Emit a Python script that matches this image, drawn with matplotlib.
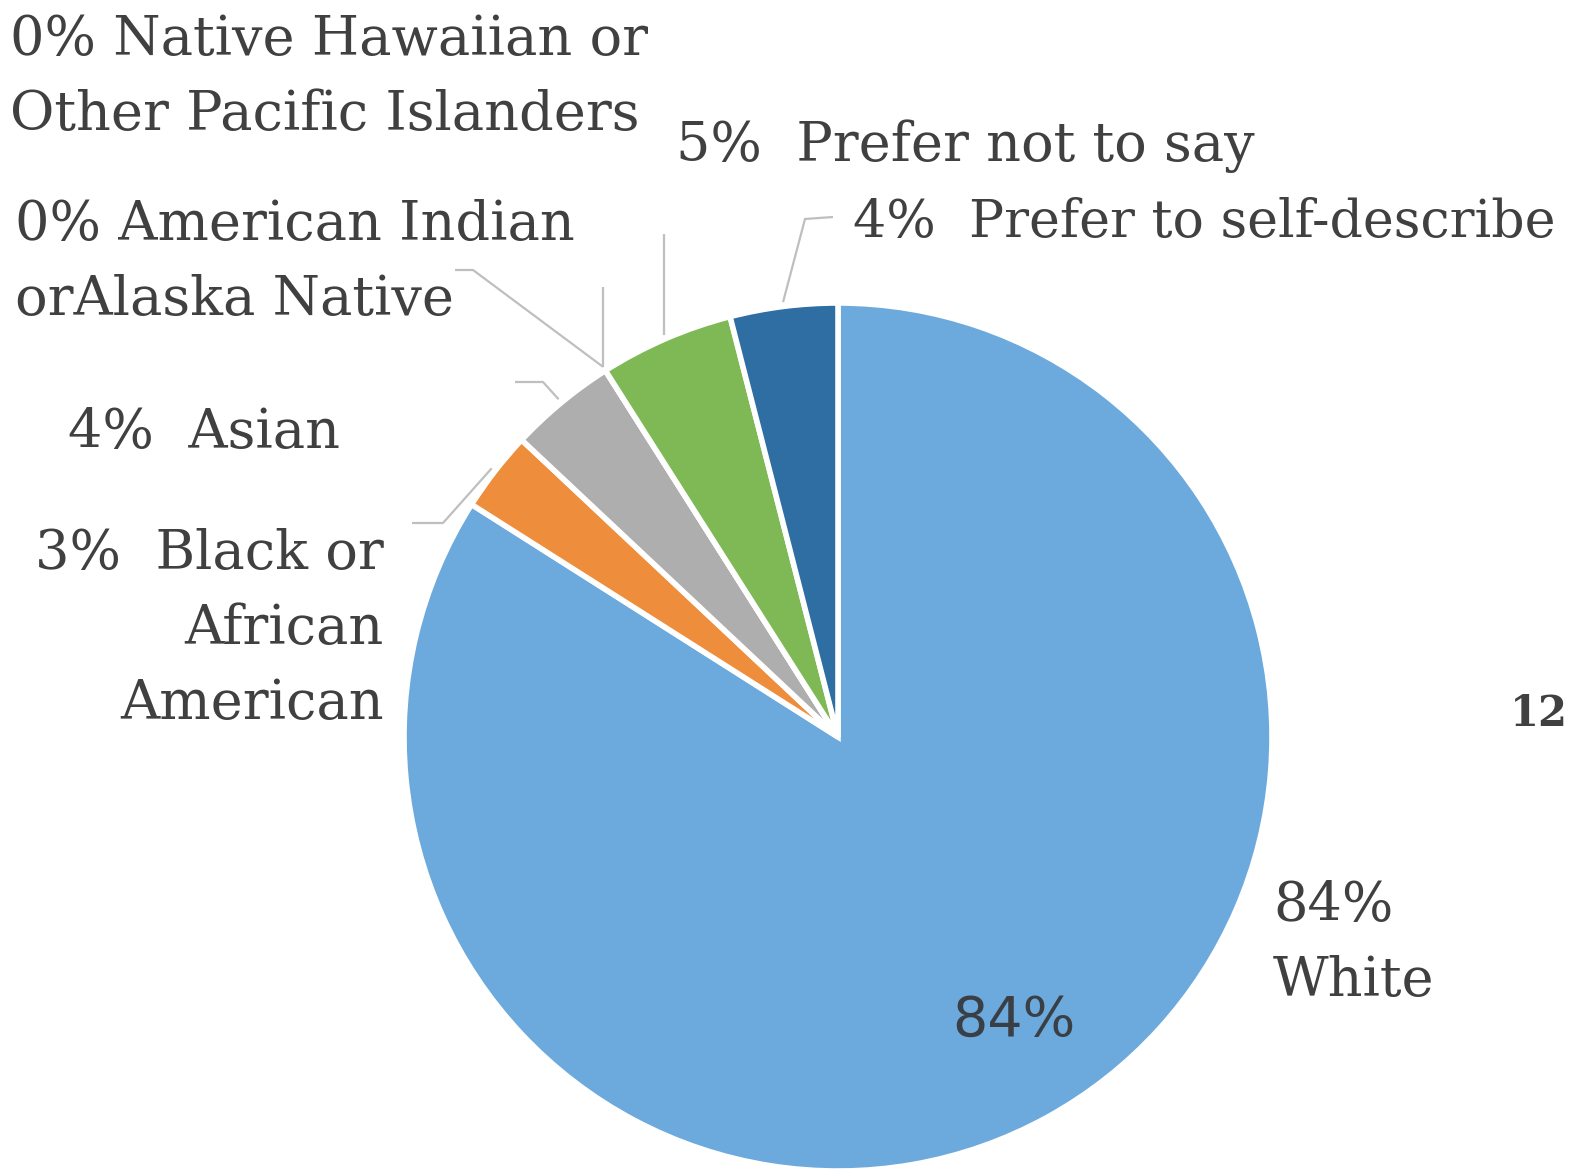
import numpy as np
import matplotlib
matplotlib.use("Agg")
from matplotlib import pyplot as plt

W, H = 1578, 1172

# survey answers, percent
categories = ["White", "Black or African American", "Asian",
              "American Indian or Alaska Native",
              "Native Hawaiian or Other Pacific Islanders",
              "Prefer not to say", "Prefer to self-describe"]
shares = [84, 3, 4, 0, 0, 5, 4]
label_lines = [
    ["{}%", "White"],
    ["{}%  Black or", "African", "American"],
    ["{}%  Asian"],
    ["{}% American Indian", "orAlaska Native"],
    ["{}% Native Hawaiian or", "Other Pacific Islanders"],
    ["{}%  Prefer not to say"],
    ["{}%  Prefer to self-describe"],
]
colors = ["#6CA9DC", "#EE8E3C", "#AEAEAE", "#A9D08E", "#4472C4", "#7EB956", "#2E6EA3"]

# where each label sits (pixels from top-left), and the bend of its leader line
layout = [
    dict(x=1273, y=921, ha="left", size=39, leader=None),
    dict(x=384, y=569, ha="right", size=39, leader=[(412, 523), (443, 523)]),
    dict(x=68, y=448, ha="left", size=39, leader=[(515, 382), (543, 382)]),
    dict(x=15, y=240, ha="left", size=39, leader=[(455, 270), (473, 270)]),
    dict(x=10, y=55, ha="left", size=39, leader=[(None, 287)]),
    dict(x=676, y=161, ha="left", size=39, leader=[(None, 234)]),
    dict(x=853, y=237, ha="left", size=37.5, leader=[(833, 217), (805, 219)]),
]

cx, cy, r = 838, 737, 434
text_col = "#404040"
line_col = "#BFBFBF"
line_gap = 75


def py(y):
    return H - y


fig = plt.figure(figsize=(W / 100, H / 100), dpi=100)
ax = fig.add_axes([0, 0, 1, 1])

wedges, _ = ax.pie(shares, colors=colors, startangle=90, counterclock=False,
                   center=(cx, py(cy)), radius=r,
                   wedgeprops=dict(edgecolor="white", linewidth=4))

for w, v, lines, lay in zip(wedges, shares, label_lines, layout):
    mid = np.deg2rad((w.theta1 + w.theta2) / 2)
    # leader line: label -> bend -> rim of the slice
    if lay["leader"] is not None:
        ax_ = cx + 1.01 * r * np.cos(mid)
        ay_ = py(cy) + 1.01 * r * np.sin(mid)
        xs, ys = [], []
        for px_, py_ in lay["leader"]:
            xs.append(ax_ if px_ is None else px_)
            ys.append(py(py_))
        xs.append(ax_)
        ys.append(ay_)
        ax.plot(xs, ys, color=line_col, lw=1.6, solid_capstyle="butt")
    for i, ln in enumerate(lines):
        ax.text(lay["x"], py(lay["y"] + i * line_gap), ln.format(v),
                ha=lay["ha"], va="baseline", fontsize=lay["size"],
                family="DejaVu Serif", color=text_col)

# value inside the big slice
w = wedges[0]
mid = np.deg2rad((w.theta1 + w.theta2) / 2 + 3)
ax.text(cx + 0.77 * r * np.cos(mid), py(cy) + 0.77 * r * np.sin(mid),
        "{}%".format(shares[0]), ha="center", va="center", fontsize=40,
        family="DejaVu Sans", color="#3A3F45")

# page number at the right edge
ax.text(1510, py(726), "12", ha="left", va="baseline", fontsize=30,
        family="DejaVu Serif", fontweight="bold", color=text_col)

ax.set_xlim(0, W)
ax.set_ylim(0, H)
ax.set_aspect("equal")
ax.axis("off")

fig.savefig("out.png", dpi=100, facecolor="white")
